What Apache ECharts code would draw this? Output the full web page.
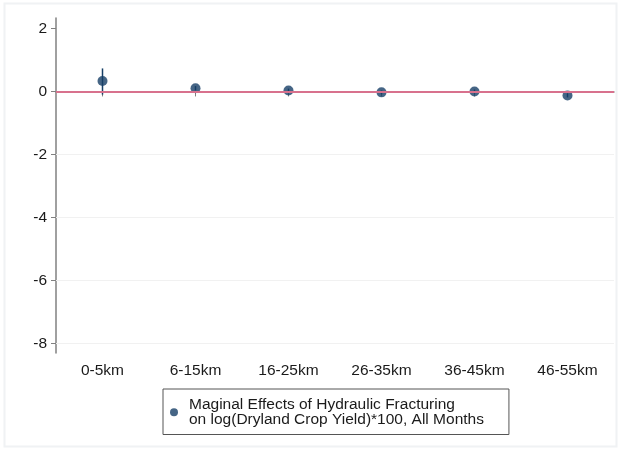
<!DOCTYPE html>
<html>
<head>
<meta charset="utf-8">
<script src="https://cdn.jsdelivr.net/npm/echarts@6/dist/echarts.min.js"></script>
<style>
html,body{margin:0;padding:0;background:#fff;}
#chart{width:621px;height:454px;}
</style>
</head>
<body>
<div id="chart"></div>
<script>
const categories = ['0-5km', '6-15km', '16-25km', '26-35km', '36-45km', '46-55km'];
const estimates = [0.33, 0.10, 0.03, -0.03, 0.00, -0.13];
const ciLow = [-0.10, 0.03, -0.03, -0.09, -0.06, -0.19];
const ciHigh = [0.73, 0.17, 0.09, 0.03, 0.06, -0.07];
const yTicks = [-8, -6, -4, -2, 0, 2];
const gridTicks = [-8, -6, -4, -2];
const seriesName = 'Maginal Effects of Hydraulic Fracturing\non log(Dryland Crop Yield)*100, All Months';

const navy = '#163f66';
const font = 'Liberation Sans, Arial, Helvetica, sans-serif';

const chart = echarts.init(document.getElementById('chart'), null, {renderer: 'canvas'});
chart.setOption({
  backgroundColor: '#ffffff',
  animation: false,
  graphic: [{
    type: 'rect',
    shape: {x: 4.5, y: 3.5, width: 612, height: 443},
    style: {fill: 'none', stroke: '#f0f2f4', lineWidth: 2},
    z: -10, silent: true
  }],
  grid: {left: 56, right: 7, top: 18, bottom: 101, containLabel: false},
  xAxis: {
    type: 'category',
    data: categories,
    boundaryGap: true,
    axisLine: {show: true, lineStyle: {color: '#808080', width: 1.5}},
    axisTick: {show: true, alignWithLabel: true, length: 5, lineStyle: {color: '#808080', width: 1}},
    axisLabel: {color: '#1a1a1a', fontFamily: font, fontSize: 15.5, margin: 10},
    splitLine: {show: false}
  },
  yAxis: {
    type: 'value',
    min: -8.3,
    max: 2.33,
    axisLine: {show: true, onZero: false, lineStyle: {color: '#808080', width: 1.5}},
    axisTick: {show: true, length: 5, customValues: yTicks, lineStyle: {color: '#808080', width: 1}},
    axisLabel: {show: true, customValues: yTicks, color: '#1a1a1a', fontFamily: font, fontSize: 15.5, margin: 9},
    splitLine: {show: false}
  },
  legend: {
    left: 163,
    top: 389,
    orient: 'vertical',
    data: [{name: seriesName, icon: 'circle'}],
    itemWidth: 8,
    itemHeight: 8,
    padding: [8, 25, 7, 7],
    borderColor: '#555',
    borderWidth: 1,
    selectedMode: false,
    textStyle: {color: '#1a1a1a', fontFamily: font, fontSize: 15.5, lineHeight: 14.5, padding: [0, 0, 0, 6]}
  },
  series: [
    {
      type: 'line',
      data: [],
      silent: true,
      z: 1,
      markLine: {
        silent: true,
        symbol: 'none',
        label: {show: false},
        data: gridTicks.map(v => ({yAxis: v, lineStyle: {color: '#f1f1f1', width: 1, type: 'solid'}}))
          .concat([{yAxis: 0, lineStyle: {color: '#d8718d', width: 2, type: 'solid'}}])
      }
    },
    {
      type: 'custom',
      z: 3,
      silent: true,
      data: categories.map((c, i) => [i, ciLow[i], ciHigh[i]]),
      renderItem: function (params, api) {
        const p1 = api.coord([api.value(0), api.value(1)]);
        const p2 = api.coord([api.value(0), api.value(2)]);
        return {
          type: 'line',
          shape: {x1: p1[0], y1: p1[1], x2: p2[0], y2: p2[1]},
          style: {stroke: navy, lineWidth: 1.5}
        };
      }
    },
    {
      name: seriesName,
      type: 'scatter',
      z: 4,
      symbol: 'circle',
      symbolSize: 10,
      itemStyle: {color: navy},
      data: estimates
    }
  ]
});
</script>
</body>
</html>
